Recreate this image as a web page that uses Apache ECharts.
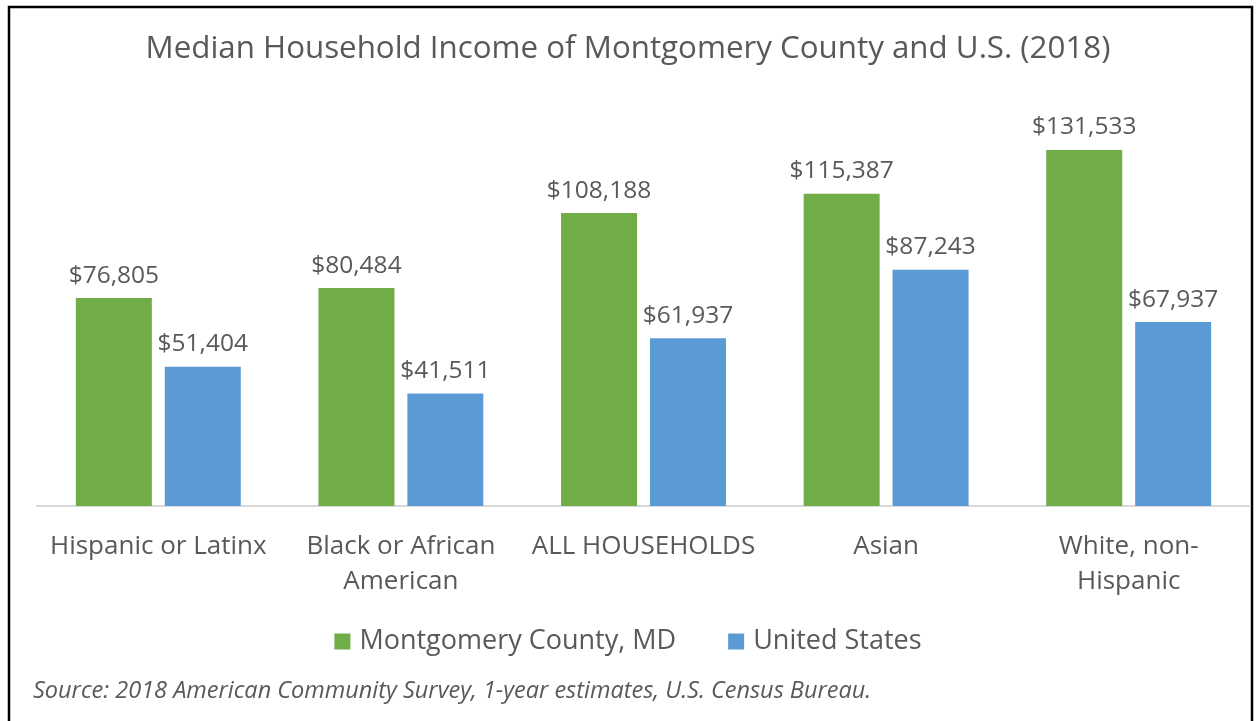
<!DOCTYPE html>
<html>
<head>
<meta charset="utf-8">
<script src="https://cdn.jsdelivr.net/npm/echarts@6/dist/echarts.min.js"></script>
<style>
  html, body { margin: 0; padding: 0; background: #fff; }
  #chart { width: 1256px; height: 721px; }
</style>
</head>
<body>
<div id="chart"></div>
<script>
// values
const categories = ['Hispanic or Latinx', 'Black or African\nAmerican', 'ALL HOUSEHOLDS', 'Asian', 'White, non-\nHispanic']
const montgomery = [76805, 80484, 108188, 115387, 131533]
const unitedStates = [51404, 41511, 61937, 87243, 67937]
const seriesNames = ['Montgomery County, MD', 'United States']

const textColor = '#595959'
const font = '"Open Sans", "Noto Sans", sans-serif'

const chart = echarts.init(document.getElementById('chart'), null, { renderer: 'canvas' })

const money = (p) => '$' + p.value.toLocaleString('en-US')

const barLabel = {
  show: true,
  position: 'top',
  distance: 10,
  color: textColor,
  fontFamily: font,
  fontSize: 24.5,
  formatter: money,
}

chart.setOption({
  backgroundColor: '#fff',
  animation: false,
  textStyle: { fontFamily: font, color: textColor },
  title: {
    text: 'Median Household Income of Montgomery County and U.S. (2018)',
    left: 'center',
    top: 29,
    textStyle: { fontFamily: font, fontSize: 31.3, fontWeight: 'normal', color: textColor },
  },
  legend: {
    data: seriesNames,
    left: 'center',
    top: 623,
    itemWidth: 16,
    itemHeight: 16,
    itemGap: 52,
    icon: 'rect',
    textStyle: { fontFamily: font, fontSize: 27, color: textColor, padding: [0, 0, 0, 4] },
  },
  grid: { left: 37, right: 6, top: 127, bottom: 215, containLabel: false },
  xAxis: {
    type: 'category',
    data: categories,
    axisLine: { lineStyle: { color: '#d9d9d9', width: 2 } },
    axisTick: { show: false },
    axisLabel: {
      interval: 0,
      margin: 23,
      fontFamily: font,
      fontSize: 26,
      lineHeight: 35,
      color: textColor,
    },
  },
  yAxis: {
    type: 'value',
    min: 0,
    max: 140000,
    show: false,
    splitLine: { show: false },
  },
  series: [
    {
      name: seriesNames[0],
      type: 'bar',
      data: montgomery,
      barWidth: 76,
      barGap: '17%',
      itemStyle: { color: '#70ad47' },
      label: barLabel,
    },
    {
      name: seriesNames[1],
      type: 'bar',
      data: unitedStates,
      barWidth: 76,
      itemStyle: { color: '#5b9bd5' },
      label: barLabel,
    },
  ],
  graphic: [
    {
      type: 'rect',
      shape: { x: 9, y: 7, width: 1243, height: 730 },
      style: { fill: null, stroke: '#000', lineWidth: 2.5 },
      silent: true,
    },
    {
      type: 'text',
      left: 33,
      top: 680,
      style: {
        text: 'Source: 2018 American Community Survey, 1-year estimates, U.S. Census Bureau.',
        fontFamily: font,
        fontStyle: 'italic',
        fontSize: 23.5,
        fill: textColor,
      },
    },
  ],
})
</script>
</body>
</html>
